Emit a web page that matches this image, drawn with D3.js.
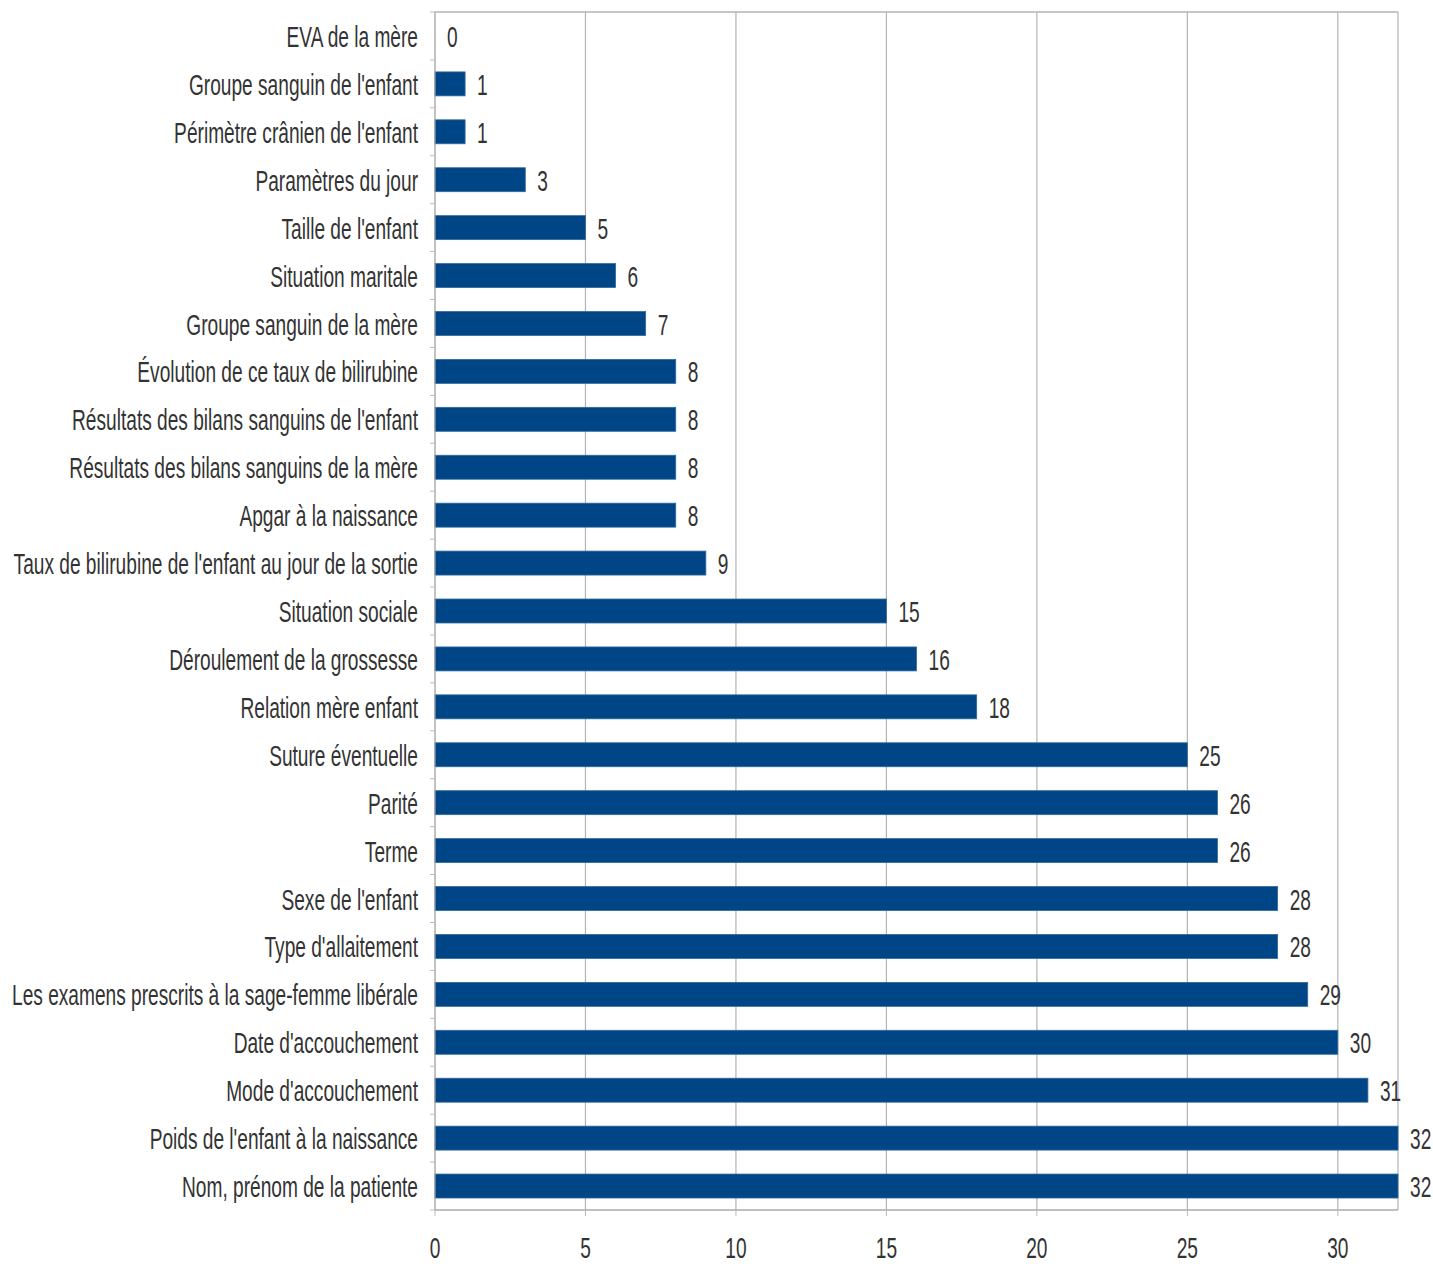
<!DOCTYPE html>
<html><head><meta charset="utf-8">
<script src="https://cdn.jsdelivr.net/npm/d3@7"></script>
<style>body{margin:0;background:#fff}svg{display:block}</style>
</head><body>
<svg id="c" width="1433" height="1264"></svg>
<script>
const categories = ["EVA de la mère","Groupe sanguin de l'enfant","Périmètre crânien de l'enfant","Paramètres du jour","Taille de l'enfant","Situation maritale","Groupe sanguin de la mère","Évolution de ce taux de bilirubine","Résultats des bilans sanguins de l'enfant","Résultats des bilans sanguins de la mère","Apgar à la naissance","Taux de bilirubine de l'enfant au jour de la sortie","Situation sociale","Déroulement de la grossesse","Relation mère enfant","Suture éventuelle","Parité","Terme","Sexe de l'enfant","Type d'allaitement","Les examens prescrits à la sage-femme libérale","Date d'accouchement","Mode d'accouchement","Poids de l'enfant à la naissance","Nom, prénom de la patiente"];
const values = [0,1,1,3,5,6,7,8,8,8,8,9,15,16,18,25,26,26,28,28,29,30,31,32,32];
const xTicks = [0,5,10,15,20,25,30];

const svg = d3.select("#c");
const x = d3.scaleLinear().domain([0,32]).range([435,1398]);
const y = d3.scaleBand().domain(categories).range([12,1210]).paddingInner(0.5).paddingOuter(0.25);
const FS = 29, SX = 0.66, COL = "#333";

// grid
svg.append("g").selectAll("line").data(xTicks.filter(d=>d>0)).join("line")
  .attr("x1",d=>x(d)).attr("x2",d=>x(d)).attr("y1",12).attr("y2",1210)
  .attr("stroke","#b3b3b3").attr("stroke-width",1.2);
svg.append("line").attr("x1",x(32)).attr("x2",x(32)).attr("y1",12).attr("y2",1210).attr("stroke","#b3b3b3").attr("stroke-width",1.2);
svg.append("line").attr("x1",x(0)).attr("x2",x(32)).attr("y1",12).attr("y2",12).attr("stroke","#b3b3b3").attr("stroke-width",1.5);

// bars
svg.append("g").selectAll("rect").data(values).join("rect")
  .attr("x",x(0)).attr("y",(d,i)=>y(categories[i]))
  .attr("width",d=>x(d)-x(0)).attr("height",y.bandwidth())
  .attr("fill","#004586").attr("stroke","#2f6a9e").attr("stroke-width",0.8);

// axes lines
svg.append("line").attr("x1",x(0)).attr("x2",x(0)).attr("y1",12).attr("y2",1210).attr("stroke","#999").attr("stroke-width",1.2);
svg.append("line").attr("x1",x(0)).attr("x2",x(32)).attr("y1",1210).attr("y2",1210).attr("stroke","#aaa").attr("stroke-width",1.5);
const bounds = d3.range(categories.length+1).map(i=>12+i*y.step());
svg.append("g").selectAll("line").data(bounds).join("line")
  .attr("x1",x(0)-5).attr("x2",x(0)).attr("y1",d=>d).attr("y2",d=>d).attr("stroke","#bbb");
svg.append("g").selectAll("line").data(xTicks).join("line")
  .attr("x1",d=>x(d)).attr("x2",d=>x(d)).attr("y1",1210).attr("y2",1216).attr("stroke","#bbb");

function txt(g, s, tx, ty, anchor){
  return g.append("text").attr("transform",`translate(${tx},${ty}) scale(${SX},1)`)
    .attr("text-anchor",anchor).attr("dominant-baseline","central")
    .attr("font-family","'Liberation Sans', Arial, sans-serif").attr("font-size",FS).attr("fill",COL).text(s);
}
const g = svg.append("g");
categories.forEach((c,i)=>{
  const cy = y(c)+y.bandwidth()/2+1;
  txt(g, c, 418, cy, "end");
  txt(g, String(values[i]), x(values[i])+12, cy, "start");
});
xTicks.forEach(t=>txt(g, String(t), x(t), 1248, "middle"));
</script>
</body></html>
